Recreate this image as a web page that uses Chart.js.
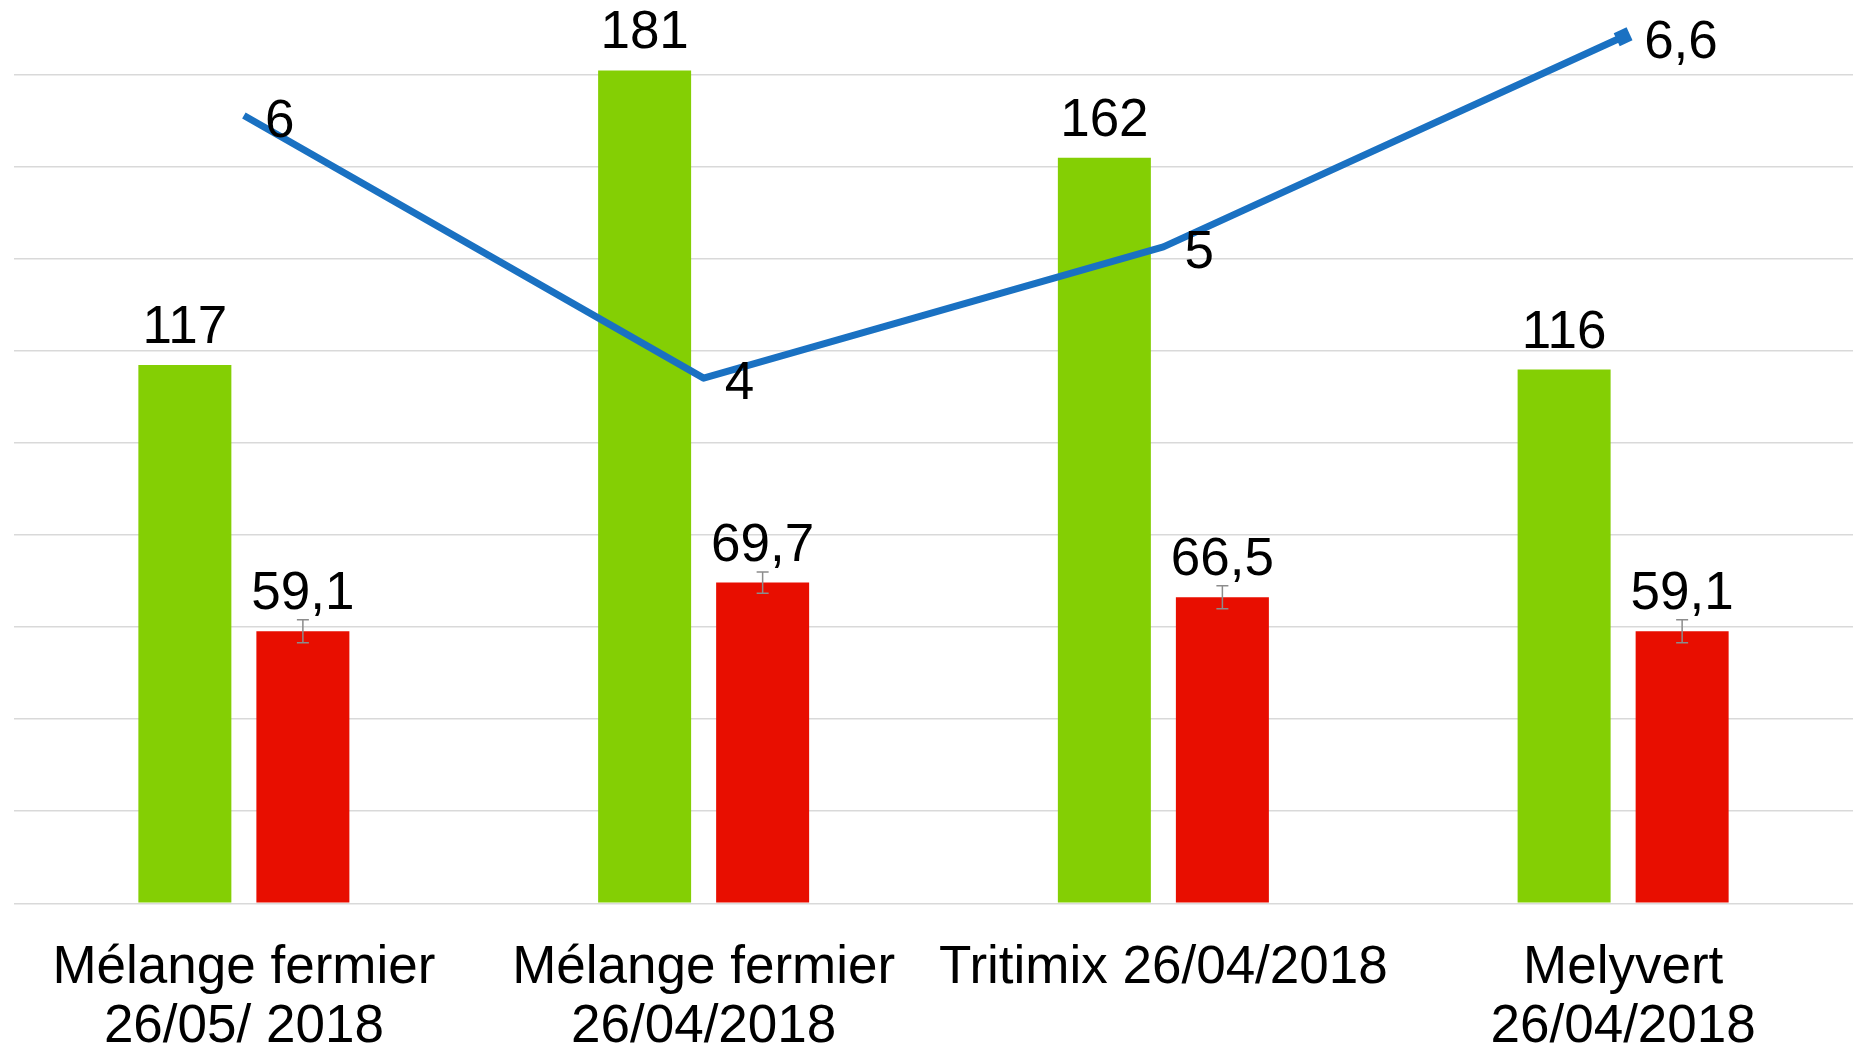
<!DOCTYPE html>
<html>
<head>
<meta charset="utf-8">
<script src="https://cdn.jsdelivr.net/npm/chart.js@4.4.1/dist/chart.umd.min.js"></script>
<style>
  body { margin: 0; background: #fff; }
  canvas { display: block; }
</style>
</head>
<body>
<canvas id="feedChart" width="1856" height="1050"></canvas>
<script>
// values
const categories = [
    ['Mélange fermier', '26/05/ 2018'],
    ['Mélange fermier', '26/04/2018'],
    'Tritimix 26/04/2018',
    ['Melyvert', '26/04/2018']
];
const greenValues = [117, 181, 162, 116];
const redValues = [59.1, 69.7, 66.5, 59.1];
const redErrors = [2.5, 2.3, 2.5, 2.5];
const lineValues = [6, 4, 5, 6.6];

const labelFont = '53px "Liberation Sans", Arial, sans-serif';

function fmt(v) {
    return String(v).replace('.', ',');
}

// draws the numbers above bars / beside line points, plus the small error bars
const valueLabels = {
    id: 'valueLabels',
    afterDatasetsDraw(chart) {
        const ctx = chart.ctx;
        const yScale = chart.scales.y;
        ctx.save();

        // error bars on the red series
        const redMeta = chart.getDatasetMeta(1);
        ctx.strokeStyle = '#8c8c8c';
        ctx.lineWidth = 1.5;
        redMeta.data.forEach(function (bar, i) {
            const yHi = yScale.getPixelForValue(redValues[i] + redErrors[i]);
            const yLo = yScale.getPixelForValue(redValues[i] - redErrors[i]);
            ctx.beginPath();
            ctx.moveTo(bar.x, yHi);
            ctx.lineTo(bar.x, yLo);
            ctx.moveTo(bar.x - 6, yHi);
            ctx.lineTo(bar.x + 6, yHi);
            ctx.moveTo(bar.x - 6, yLo);
            ctx.lineTo(bar.x + 6, yLo);
            ctx.stroke();
        });

        ctx.font = labelFont;
        ctx.fillStyle = '#000';
        ctx.textBaseline = 'alphabetic';

        // bar labels
        ctx.textAlign = 'center';
        [0, 1].forEach(function (d) {
            const values = chart.data.datasets[d].data;
            chart.getDatasetMeta(d).data.forEach(function (bar, i) {
                ctx.fillText(fmt(values[i]), bar.x, bar.y - 22);
            });
        });

        // line labels, to the right of each point
        ctx.textAlign = 'left';
        chart.getDatasetMeta(2).data.forEach(function (pt, i) {
            ctx.fillText(fmt(lineValues[i]), pt.x + 21, pt.y + 21);
        });

        ctx.restore();
    }
};

const feedChart = new Chart(document.getElementById('feedChart'), {
    type: 'bar',
    data: {
        labels: categories,
        datasets: [{
            label: 'vert',
            data: greenValues,
            backgroundColor: '#84cf04',
            yAxisID: 'y',
            order: 2
        }, {
            label: 'rouge',
            data: redValues,
            backgroundColor: '#e80e00',
            yAxisID: 'y',
            order: 2
        }, {
            type: 'line',
            label: 'ligne',
            data: lineValues,
            borderColor: '#1a71c2',
            backgroundColor: '#1a71c2',
            borderWidth: 7,
            borderJoinStyle: 'round',
            tension: 0,
            pointStyle: 'rect',
            pointRotation: -25,
            pointRadius: [0, 0, 0, 10],
            pointBorderWidth: 0,
            yAxisID: 'y1',
            order: 0
        }]
    },
    options: {
        responsive: false,
        animation: false,
        layout: {
            autoPadding: false,
            padding: { left: 14, right: 3, top: 0, bottom: -42 }
        },
        datasets: {
            bar: {
                categoryPercentage: 0.5134,
                barPercentage: 0.788
            }
        },
        plugins: {
            legend: { display: false },
            tooltip: { enabled: false }
        },
        scales: {
            x: {
                grid: { display: false, drawTicks: false },
                border: { display: false },
                ticks: {
                    color: '#000',
                    padding: 35,
                    autoSkip: false,
                    maxRotation: 0,
                    font: {
                        family: '"Liberation Sans", Arial, sans-serif',
                        size: 53,
                        lineHeight: 1.12
                    }
                }
            },
            y: {
                min: 0,
                max: 196.3,
                grid: { color: '#d9d9d9', lineWidth: 1.5, drawTicks: false },
                border: { display: false },
                ticks: { display: false, stepSize: 20 },
                afterBuildTicks: function (scale) {
                    scale.ticks = scale.ticks.filter(function (t) { return t.value % 20 === 0; });
                }
            },
            y1: {
                display: false,
                min: 0,
                max: 6.88
            }
        }
    },
    plugins: [valueLabels]
});
</script>
</body>
</html>
